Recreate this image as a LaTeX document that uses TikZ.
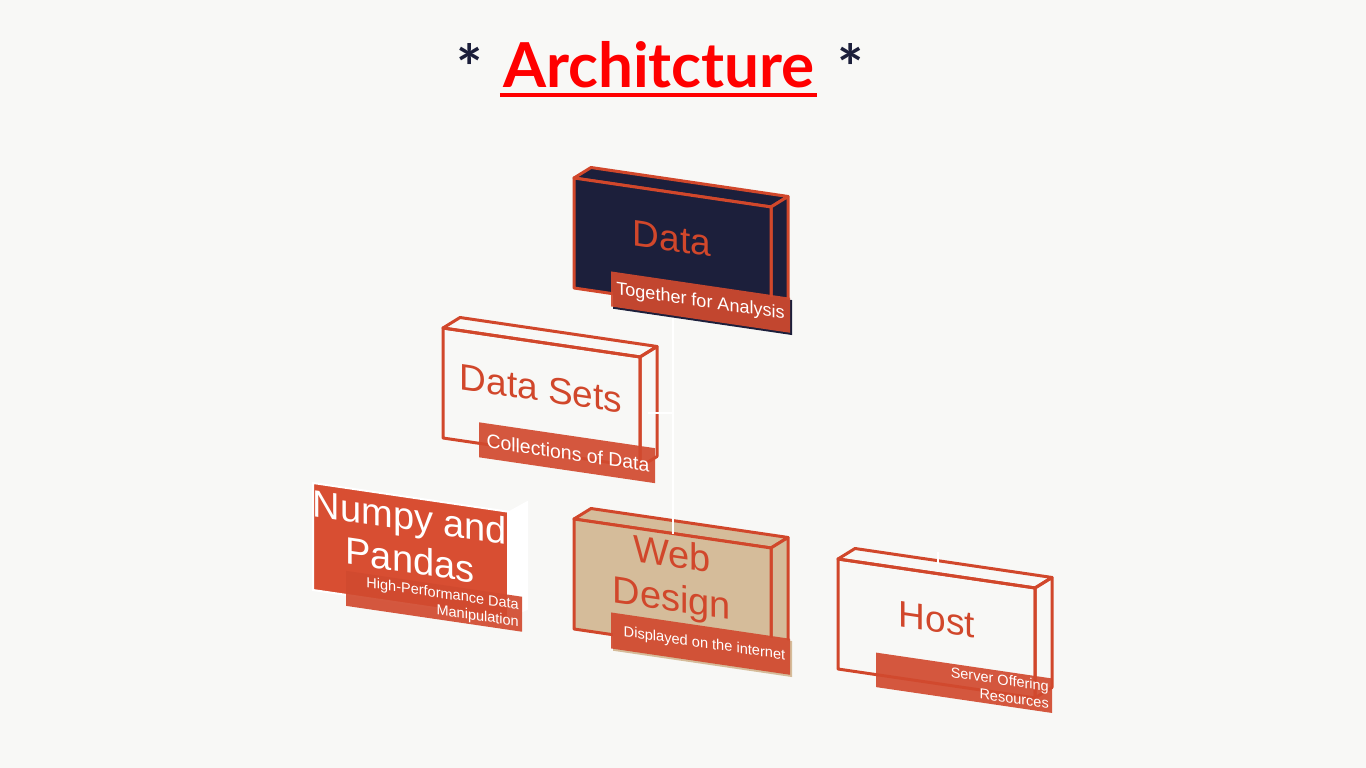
\documentclass[tikz,border=0pt]{standalone}
\usepackage{fontspec}
\setmainfont{Liberation Sans}
\newfontfamily\titlefont{Lato}
\definecolor{bgc}{HTML}{F8F8F6}
\definecolor{edgec}{HTML}{D1472B}
\definecolor{navyc}{HTML}{1C1F3B}
\definecolor{tanc}{HTML}{D5BC9A}
\definecolor{tagc}{HTML}{D14A2F}
\definecolor{facec}{HTML}{D84E32}
\definecolor{titlec}{HTML}{FF0000}

\tikzset{
  slab/.style={draw=edgec, line width=3pt, line join=round},
  tag/.style={fill=tagc, fill opacity=0.92},
  head/.style={text=edgec, inner sep=0pt, align=center, transform shape, font=\fontsize{37}{42}\selectfont},
  tagtext/.style={text=white, inner sep=0pt, transform shape},
  link/.style={draw=white, line width=1.5pt},
}

\begin{document}
\begin{tikzpicture}[x=1pt, y=-1pt]
  \useasboundingbox[fill=bgc] (0,0) rectangle (1366,768);

  % title
  \node[anchor=base, text=titlec, inner sep=0pt, font=\titlefont\bfseries\fontsize{62}{70}\selectfont] (title) at (659,88) {Architcture};
  \node[anchor=base, text=navyc, inner sep=0pt, font=\titlefont\bfseries\fontsize{62}{70}\selectfont] (starL) at (470,91) {*};
  \node[anchor=base, text=navyc, inner sep=0pt, font=\titlefont\bfseries\fontsize{62}{70}\selectfont] (starR) at (851,91) {*};
  \draw[titlec, line width=3pt, shorten <=-3pt, shorten >=-2pt] ([yshift=-7pt]title.base west) -- ([yshift=-7pt]title.base east);

  % Data
  \begin{scope}[shift={(574,178)}, yslant=-0.147]
    \draw[slab, fill=navyc] (0,0) -- (17,-13) -- (214,-13) -- (197,0) -- cycle;
    \draw[slab, fill=navyc] (197,0) -- (214,-13) -- (214,97) -- (197,110) -- cycle;
    \draw[slab, fill=navyc] (0,0) rectangle (197,110);
    \fill[navyc] (39,90) rectangle (218,125);
    \fill[tag] (37,88) rectangle (216,123);
    \node[head] (data) at (98,46) {Data};
    \node[tagtext, font=\fontsize{18}{21}\selectfont] (dataTag) at (126.5,105.5) {Together for Analysis};
    \coordinate (dataBottom) at (99,125);
  \end{scope}

  % Data Sets
  \begin{scope}[shift={(443,328)}, yslant=-0.147]
    \draw[slab] (0,0) -- (17,-13) -- (214,-13) -- (197,0) -- cycle;
    \draw[slab] (197,0) -- (214,-13) -- (214,97) -- (197,110) -- cycle;
    \draw[slab] (0,0) rectangle (197,110);
    \fill[tag] (36,89) rectangle (212,124);
    \node[head] (sets) at (98,46) {Data Sets};
    \node[tagtext, font=\fontsize{19.4}{22}\selectfont] (setsTag) at (125,106.5) {Collections of Data};
    \coordinate (setsRight) at (205,55);
  \end{scope}

  % Numpy and Pandas
  \begin{scope}[shift={(313,483)}, yslant=-0.147]
    \fill[white] (195,0) -- (215,-14) -- (215,95) -- (195,107) -- cycle;
    \draw[white, line width=2pt, fill=facec] (0,0) rectangle (195,107);
    \fill[tag] (33,83) rectangle (209,118);
    \node[head, text=white, font=\fontsize{38}{43}\selectfont] (numpy) at (97,41) {Numpy and\\Pandas};
    \node[tagtext, anchor=east, align=right, font=\fontsize{14.5}{17}\selectfont] (numpyTag) at (206,101) {High-Performance Data\\Manipulation};
  \end{scope}

  % Web Design
  \begin{scope}[shift={(574,519)}, yslant=-0.147]
    \draw[slab, fill=tanc] (0,0) -- (17,-13) -- (214,-13) -- (197,0) -- cycle;
    \draw[slab, fill=tanc] (197,0) -- (214,-13) -- (214,97) -- (197,110) -- cycle;
    \draw[slab, fill=tanc] (0,0) rectangle (197,110);
    \fill[tanc] (39,90) rectangle (218,126);
    \fill[tag] (37,88) rectangle (216,124);
    \node[head, font=\fontsize{38}{44}\selectfont] (web) at (98,46) {Web\\Design};
    \node[tagtext, font=\fontsize{14.6}{17}\selectfont] (webTag) at (130.5,106) {Displayed on the internet};
    \coordinate (webTop) at (99,0);
  \end{scope}

  % Host
  \begin{scope}[shift={(838,559)}, yslant=-0.147]
    \draw[slab] (0,0) -- (17,-13) -- (214,-13) -- (197,0) -- cycle;
    \draw[slab] (197,0) -- (214,-13) -- (214,97) -- (197,110) -- cycle;
    \draw[slab] (0,0) rectangle (197,110);
    \fill[tag] (38,88) rectangle (214,122.5);
    \node[head] (host) at (99,46) {Host};
    \node[tagtext, anchor=east, align=right, font=\fontsize{14.5}{17}\selectfont] (hostTag) at (211,105) {Server Offering\\Resources};
    \coordinate (hostIn) at (100,-22);
    \coordinate (hostTop) at (100,-10);
  \end{scope}

  % connectors
  \draw[link] (dataBottom) -- (webTop);
  \draw[link] (setsRight) -- (setsRight -| webTop);
  \draw[link] (hostIn) -- (hostTop);
\end{tikzpicture}
\end{document}
